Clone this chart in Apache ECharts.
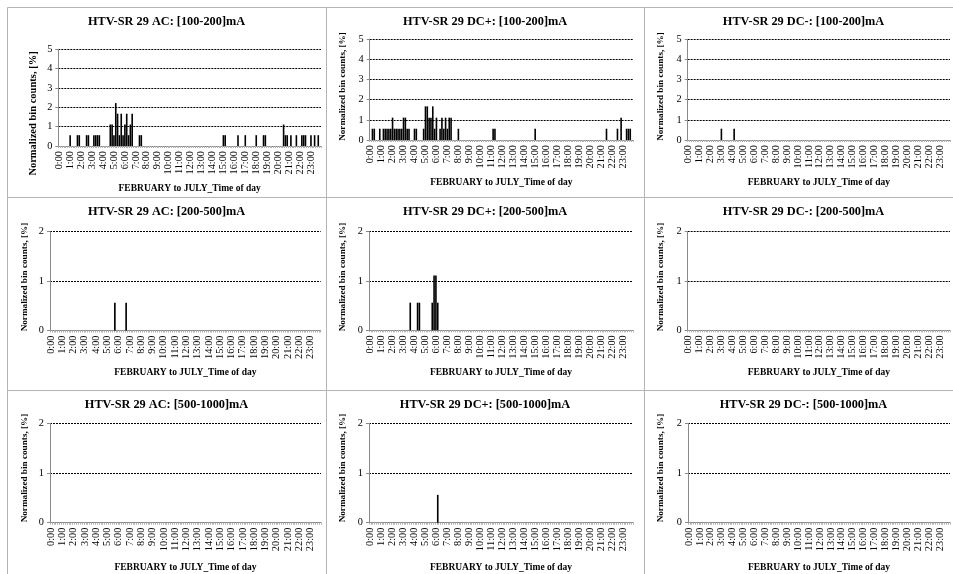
<!DOCTYPE html>
<html>
<head>
<meta charset="utf-8">
<script src="https://cdn.jsdelivr.net/npm/echarts@6/dist/echarts.min.js"></script>
<style>
html,body{margin:0;padding:0;background:#fff;}
#chart{width:953px;height:574px;}
</style>
</head>
<body>
<div id="chart"></div>
<script>
// Hour tick labels; each hour is split into six 10-minute bins
const hourLabels = ['0:00','1:00','2:00','3:00','4:00','5:00','6:00','7:00','8:00','9:00','10:00','11:00',
  '12:00','13:00','14:00','15:00','16:00','17:00','18:00','19:00','20:00','21:00','22:00','23:00'];
const binMinutes = ['00','10','20','30','40','50'];

const panelTitles = [
  'HTV-SR 29 AC: [100-200]mA', 'HTV-SR 29 DC+: [100-200]mA', 'HTV-SR 29 DC-: [100-200]mA',
  'HTV-SR 29 AC: [200-500]mA', 'HTV-SR 29 DC+: [200-500]mA', 'HTV-SR 29 DC-: [200-500]mA',
  'HTV-SR 29 AC: [500-1000]mA', 'HTV-SR 29 DC+: [500-1000]mA', 'HTV-SR 29 DC-: [500-1000]mA'
];
const xAxisTitle = 'FEBRUARY to JULY_Time of day';
const yAxisTitle = 'Normalized bin counts, [%]';
const yMaxByRow = [5, 2, 2];

// Normalized bin counts [%] per 10-minute bin; bins not listed hold 0
const ac100 = [
  ['1:00',0.56],['1:40',0.56],['1:50',0.56],['2:30',0.56],['2:40',0.56],
  ['3:10',0.56],['3:20',0.56],['3:30',0.56],['3:40',0.56],
  ['4:40',1.11],['4:50',1.11],['5:00',0.56],['5:10',2.22],['5:20',1.67],['5:30',0.56],
  ['5:40',1.67],['5:50',0.56],['6:00',1.11],['6:10',1.67],['6:20',0.56],['6:30',1.11],['6:40',1.67],
  ['7:20',0.56],['7:30',0.56],['15:00',0.56],['15:10',0.56],['16:20',0.56],['17:00',0.56],
  ['18:00',0.56],['18:40',0.56],['18:50',0.56],['20:30',1.11],['20:40',0.56],['20:50',0.56],
  ['21:10',0.56],['21:40',0.56],['22:10',0.56],['22:20',0.56],['22:30',0.56],
  ['23:00',0.56],['23:20',0.56],['23:40',0.56]
];
const dcPos100 = [
  ['0:10',0.56],['0:20',0.56],['0:50',0.56],['1:10',0.56],['1:20',0.56],['1:30',0.56],['1:40',0.56],
  ['1:50',0.56],['2:00',1.11],['2:10',0.56],['2:20',0.56],['2:30',0.56],['2:40',0.56],['2:50',0.56],
  ['3:00',1.11],['3:10',1.11],['3:20',0.56],['3:30',0.56],['4:00',0.56],['4:10',0.56],
  ['4:50',0.56],['5:00',1.67],['5:10',1.67],['5:20',1.11],['5:30',1.11],['5:40',1.67],['5:50',0.56],
  ['6:00',1.11],['6:20',0.56],['6:30',1.11],['6:40',0.56],['6:50',1.11],['7:00',0.56],['7:10',1.11],
  ['7:20',1.11],['8:00',0.56],['11:10',0.56],['11:20',0.56],['15:00',0.56],['21:30',0.56],
  ['22:30',0.56],['22:50',1.11],['23:20',0.56],['23:30',0.56],['23:40',0.56]
];
const dcNeg100 = [['3:00',0.56],['4:10',0.56]];
const ac200 = [['5:40',0.56],['6:40',0.56]];
const dcPos200 = [['3:40',0.56],['4:20',0.56],['4:30',0.56],['5:40',0.56],['5:50',1.11],['6:00',1.11],['6:10',0.56]];
const dcNeg200 = [];
const ac500 = [];
const dcPos500 = [['6:10',0.56]];
const dcNeg500 = [];

const panelData = [ac100, dcPos100, dcNeg100, ac200, dcPos200, dcNeg200, ac500, dcPos500, dcNeg500];

// 144 ten-minute categories across the day
const categories = [];
hourLabels.forEach(h => {
  const hh = h.split(':')[0];
  binMinutes.forEach(m => categories.push(hh + ':' + m));
});

function fullDay(pairs) {
  const lookup = {};
  pairs.forEach(p => { lookup[p[0]] = p[1]; });
  return categories.map(c => (c in lookup ? lookup[c] : 0));
}

// Panel frames and plot areas (pixels)
const colX = [7, 326, 644], colW = [319, 318, 319];
const rowY = [7, 197, 390], rowH = [190, 193, 200];
const plots = [
  {l:58.3, r:321,   t:49.3,  b:146,   yn:[33.5, 113.5, 10.5], gap:38},
  {l:369.7, r:633,  t:39.3,  b:140,   yn:[343, 86.5, 9.2],    gap:38},
  {l:687.7, r:950,  t:39.3,  b:140,   yn:[661, 86.5, 9.2],    gap:38},
  {l:50,    r:320.7,t:231.7, b:330.5, yn:[25, 277, 9.2],      gap:37},
  {l:369,   r:633,  t:231.7, b:330.3, yn:[343, 277, 9.2],     gap:37},
  {l:687.7, r:950,  t:231.7, b:330.3, yn:[661, 277, 9.2],     gap:37},
  {l:50,    r:321,  t:423.3, b:522.7, yn:[25, 468, 9.2],      gap:40},
  {l:369,   r:633,  t:423.3, b:522.7, yn:[343, 468, 9.2],     gap:40},
  {l:688,   r:950,  t:423.3, b:522.7, yn:[661, 468, 9.2],     gap:40}
];
const titleCY = [23.5, 213, 406];

const serif = "'Liberation Serif','Times New Roman',serif";
const axisGray = '#8a8a8a';

const grids = [], xAxes = [], yAxes = [], series = [], titles = [], graphics = [];

for (let r = 0; r < 3; r++) {
  for (let c = 0; c < 3; c++) {
    graphics.push({
      type: 'rect', silent: true, z: -1,
      shape: {x: colX[c] + 0.5, y: rowY[r] + 0.5, width: colW[c], height: rowH[r]},
      style: {fill: 'none', stroke: '#b4b4b4', lineWidth: 1}
    });
  }
}

plots.forEach((p, i) => {
  const row = Math.floor(i / 3), col = i % 3;
  grids.push({left: p.l, top: p.t, width: p.r - p.l, height: p.b - p.t, containLabel: false});
  xAxes.push({
    type: 'category', gridIndex: i, data: categories,
    boundaryGap: true,
    name: xAxisTitle, nameLocation: 'middle', nameGap: p.gap,
    nameTextStyle: {fontFamily: serif, fontWeight: 'bold', fontSize: 9.5, color: '#000'},
    axisLine: {show: true, lineStyle: {color: axisGray, width: 1}},
    axisTick: {show: true, interval: 0, length: 2, lineStyle: {color: '#b0b0b0'}},
    axisLabel: {interval: 5, rotate: 90, margin: 5, fontFamily: serif, fontSize: 10.3, color: '#000'},
    splitLine: {show: false}
  });
  yAxes.push({
    type: 'value', gridIndex: i, min: 0, max: yMaxByRow[row], interval: 1,
    axisLine: {show: true, lineStyle: {color: axisGray, width: 1}},
    axisTick: {show: true, length: 3, lineStyle: {color: axisGray}},
    axisLabel: {margin: 6, fontFamily: serif, fontSize: 10.3, color: '#000'},
    splitLine: {show: true, lineStyle: {color: '#000', width: 1, type: [2, 1]}}
  });
  series.push({
    type: 'bar', xAxisIndex: i, yAxisIndex: i,
    data: fullDay(panelData[i]),
    barCategoryGap: '12%',
    itemStyle: {color: '#000'},
    silent: true, animation: false
  });
  titles.push({
    text: panelTitles[i],
    left: colX[col] + colW[col] / 2, top: titleCY[row] - 7.5,
    textAlign: 'center', padding: 0,
    textStyle: {fontFamily: serif, fontWeight: 'bold', fontSize: 12.3, color: '#000'}
  });
  graphics.push({
    type: 'text', silent: true,
    x: p.yn[0], y: p.yn[1], rotation: Math.PI / 2,
    style: {text: yAxisTitle, fontFamily: serif, fontWeight: 'bold', fontSize: p.yn[2],
            fill: '#000', align: 'center', verticalAlign: 'middle'}
  });
});

const chart = echarts.init(document.getElementById('chart'), null, {renderer: 'canvas'});
chart.setOption({
  animation: false,
  backgroundColor: '#fff',
  title: titles,
  grid: grids,
  xAxis: xAxes,
  yAxis: yAxes,
  series: series,
  graphic: graphics
});
</script>
</body>
</html>
